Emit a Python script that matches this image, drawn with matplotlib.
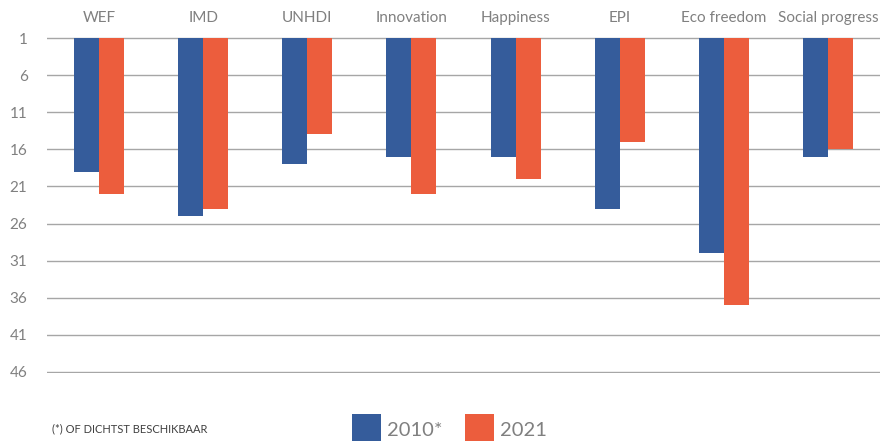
import numpy as np
import matplotlib.pyplot as plt

plt.rcParams['font.family'] = ['Lato', 'DejaVu Sans']

categories = ['WEF', 'IMD', 'UNHDI', 'Innovation', 'Happiness', 'EPI', 'Eco freedom', 'Social progress']
rank_2010 = [19, 25, 18, 17, 17, 24, 30, 17]
rank_2021 = [22, 24, 14, 22, 20, 15, 37, 16]
yticks = [1, 6, 11, 16, 21, 26, 31, 36, 41, 46]

blue = '#355c9b'
orange = '#ec5d3d'
grey = '#808080'

fig = plt.figure(figsize=(8.83, 4.41), dpi=100)
# axes spans rank 0.9 .. 46.1 so the edge gridlines are not clipped
ax = fig.add_axes([0.0532, 0.1548, 0.9435, 0.7607])

x = np.arange(len(categories))
w = 0.24
base = 1
ax.bar(x - w / 2, np.array(rank_2010) - base, w, bottom=base, color=blue, label='2010*', zorder=3)
ax.bar(x + w / 2, np.array(rank_2021) - base, w, bottom=base, color=orange, label='2021', zorder=3)

ax.set_ylim(46.1, 0.9)
ax.set_xlim(-0.5, len(categories) - 0.5)
ax.set_yticks(yticks)
ax.grid(axis='y', color='#a6a6a6', linewidth=1.0, zorder=0)
ax.set_axisbelow(True)
for s in ax.spines.values():
    s.set_visible(False)

ax.xaxis.tick_top()
ax.set_xticks(x)
ax.set_xticklabels(categories, fontsize=11, color=grey)
ax.tick_params(axis='both', length=0)
ax.tick_params(axis='x', pad=9)
ax.tick_params(axis='y', pad=14, labelsize=11, labelcolor=grey)

fig.text(0.059, 0.02, '(*) OF DICHTST BESCHIKBAAR', fontsize=8, color='#404040')

fig.legend(loc='lower left', bbox_to_anchor=(0.378, -0.05), ncol=2, frameon=False,
           fontsize=14.5, handlelength=1.45, handleheight=2.0, handletextpad=0.3,
           columnspacing=1.1, labelcolor=grey)

fig.savefig('out.png', dpi=100)
